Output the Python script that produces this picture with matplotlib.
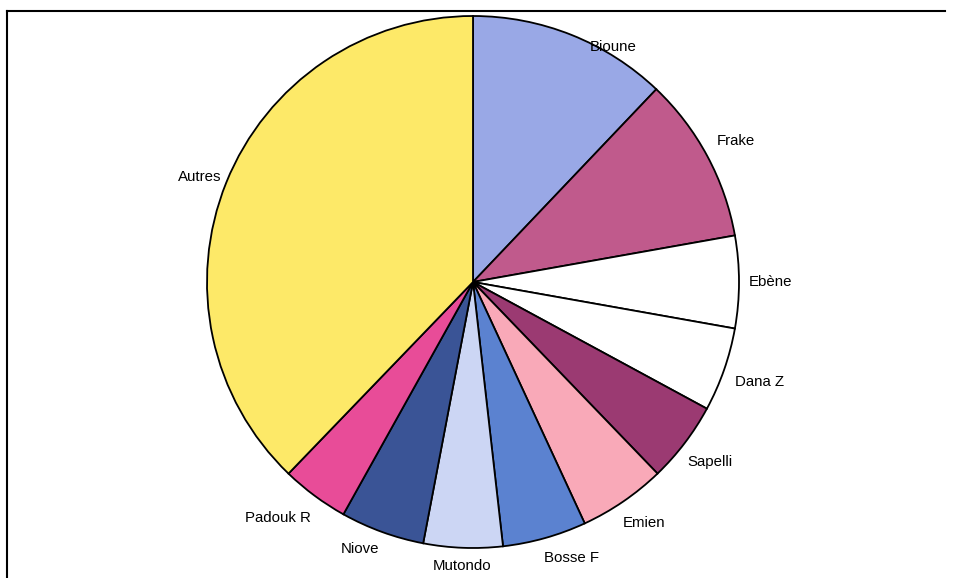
import numpy as np
import matplotlib
matplotlib.use("Agg")
import matplotlib.pyplot as plt
from matplotlib.lines import Line2D

plt.rcParams['font.family'] = ['Liberation Sans', 'DejaVu Sans']

# parts des essences (%), dans le sens horaire depuis le haut
essences = ["Bioune", "Frake", "Ebène", "Dana Z", "Sapelli", "Emien",
            "Bosse F", "Mutondo", "Niove", "Padouk R", "Autres"]
parts = [12.1, 10.1, 5.6, 5.1, 4.9, 5.3, 5.1, 4.8, 5.1, 4.1, 37.8]
couleurs = ["#99a8e6", "#c05a8c", "#ffffff", "#ffffff", "#9b3a72", "#f9a9b8",
            "#5b82d0", "#ccd6f4", "#3a5496", "#e84c98", "#fde968"]

# decalage angulaire (deg) et distance des etiquettes
decal_angle = [-9, 0, 0, 0, 0, 1, 4, 0, -3, -3, 1]
dist_label = [1.03, 1.12, 1.12, 1.14, 1.12, 1.11, 1.10, 1.07, 1.09, 1.15, 1.10]

W, H = 961, 578
cx, cy, R = 473, 282, 266

fig = plt.figure(figsize=(W / 100, H / 100), dpi=100)
ax = fig.add_axes([0, 0, 1, 1])
wedges, _ = ax.pie(parts, colors=couleurs, startangle=90, counterclock=False,
                   radius=1.0, wedgeprops=dict(edgecolor="black", linewidth=1.3))

for w, lab, da, d in zip(wedges, essences, decal_angle, dist_label):
    ang = np.deg2rad((w.theta1 + w.theta2) / 2 + da)
    ax.text(d * np.cos(ang), d * np.sin(ang), lab, ha="center", va="center",
            fontsize=10.8, color="black")

ax.set_xlim(-cx / R, (W - cx) / R)
ax.set_ylim(-(H - cy) / R, cy / R)
ax.set_aspect("equal")
ax.axis("off")

# cadre (haut + gauche)
fig.add_artist(Line2D([7 / W, 945 / W], [1 - 11 / H, 1 - 11 / H],
                      color="black", linewidth=1.5))
fig.add_artist(Line2D([7 / W, 7 / W], [1 - 11 / H, 0],
                      color="black", linewidth=1.5))

fig.savefig("out.png", dpi=100)
